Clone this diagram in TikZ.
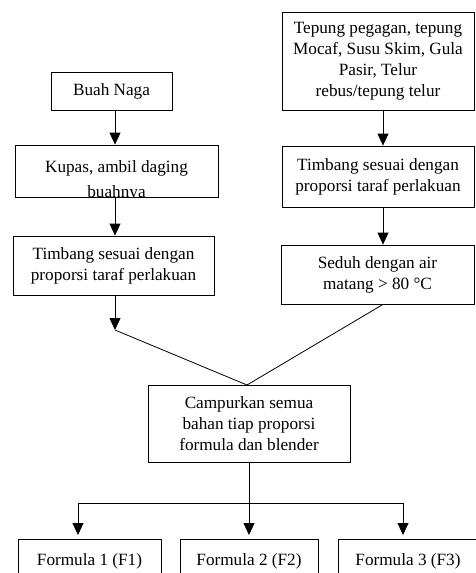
\documentclass[tikz,border=0pt]{standalone}
\usepackage{fontspec}
\setmainfont{Liberation Serif}
\usetikzlibrary{arrows.meta}
\newcommand{\fsz}{\fontsize{17.2}{21}\selectfont}
\begin{document}
\begin{tikzpicture}[x=1pt,y=-1pt,
  box/.style={draw, line width=0.8pt, inner sep=0pt, align=center, font=\fsz},
  txt/.style={inner sep=0pt, align=center, font=\fsz},
  ln/.style={line width=0.8pt},
  arr/.style={line width=0.8pt, -{Triangle[width=11pt,length=12pt]}}]
\useasboundingbox (0,0) rectangle (475,573);
\fill[white] (0,0) rectangle (475,573);
% left column
\node[box, minimum width=121pt, minimum height=38pt] (buah) at (111.5,91) {Buah Naga};
\begin{scope}
\clip (15,145) rectangle (218,197);
\node[txt, anchor=north] (kupast) at (116.5,160.2) {Kupas, ambil daging\\[4pt]buahnya};
\end{scope}
\node[box, minimum width=203pt, minimum height=52pt] (kupas) at (116.5,171) {};
\node[box, minimum width=201pt, minimum height=59pt] (timbL) at (113.5,265.5) {Timbang sesuai dengan\\proporsi taraf perlakuan};
% right column
\node[box, minimum width=192pt, minimum height=98pt] (tepung) at (378,61) {Tepung pegagan, tepung\\Mocaf, Susu Skim, Gula\\Pasir, Telur\\rebus/tepung telur};
\node[box, minimum width=192pt, minimum height=61pt] (timbR) at (378,176.5) {Timbang sesuai dengan\\proporsi taraf perlakuan};
\node[box, minimum width=193pt, minimum height=59pt] (seduh) at (377.5,274.5) {Seduh dengan air\\matang > 80 \textdegree C};
% merge
\node[box, minimum width=202pt, minimum height=77pt] (campur) at (249,423.5) {\raisebox{-3pt}{\parbox{200pt}{\centering Campurkan semua\\bahan tiap proporsi\\formula dan blender}}};
% formulas
\node[box, minimum width=143pt, minimum height=60pt, anchor=north] (f1) at (89.5,539) {};
\node[box, minimum width=138pt, minimum height=60pt, anchor=north] (f2) at (249,539) {};
\node[box, minimum width=140pt, minimum height=60pt, anchor=north] (f3) at (408,539) {};
\node[txt, anchor=base] (f1t) at (89.5,565) {Formula 1 (F1)};
\node[txt, anchor=base] (f2t) at (249,565) {Formula 2 (F2)};
\node[txt, anchor=base] (f3t) at (408,565) {Formula 3 (F3)};
% coordinates
\coordinate (xl) at (115,0);
\coordinate (xr) at (383,0);
\coordinate (j1) at (115,330);
\coordinate (m) at (247,385);
\coordinate (hl) at (78,503);
\coordinate (hr) at (403,503);
\coordinate (a1) at (78,535);
\coordinate (a2) at (249,535);
\coordinate (a3) at (403,535);
% connectors
\draw[arr] (buah.south -| xl) -- (kupas.north -| xl);
\draw[arr] (kupas.south -| xl) -- (timbL.north -| xl);
\draw[arr] (timbL.south -| xl) -- (j1);
\draw[ln] (j1) -- (m);
\draw[arr] (tepung.south -| xr) -- (timbR.north -| xr);
\draw[arr] (timbR.south -| xr) -- (seduh.north -| xr);
\draw[ln] (seduh.south -| xr) -- (m);
\draw[arr] (campur.south) -- (a2);
\draw[ln] (hl) -- (hr);
\draw[arr] (hl) -- (a1);
\draw[arr] (hr) -- (a3);
\end{tikzpicture}
\end{document}
